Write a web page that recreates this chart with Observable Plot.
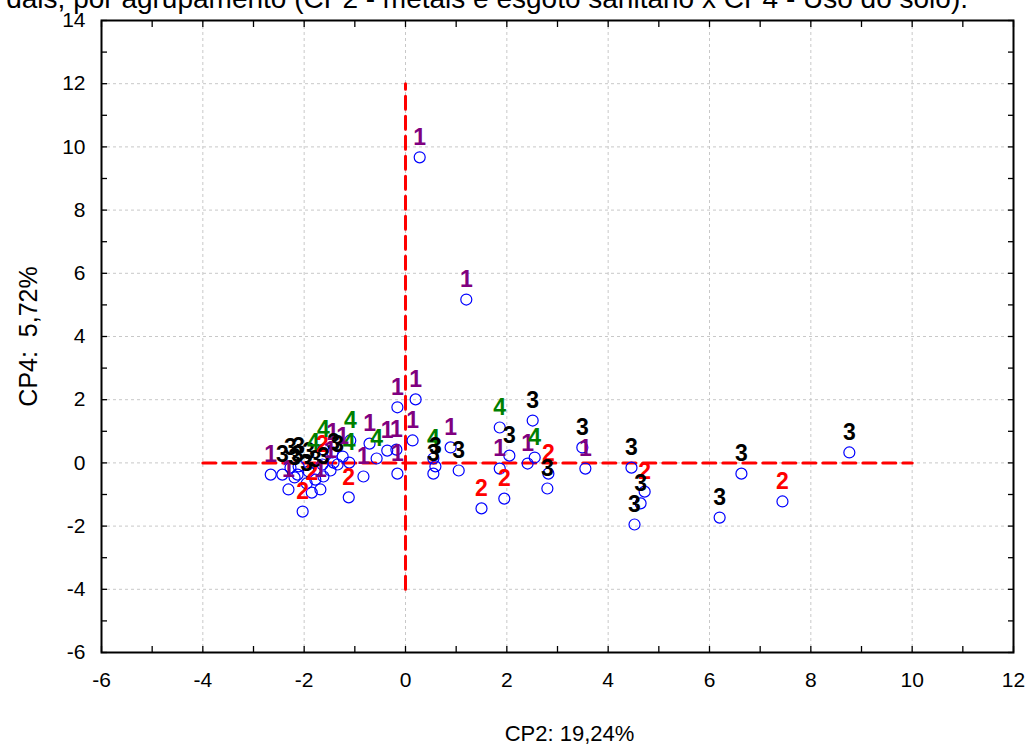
<!DOCTYPE html>
<html><head><meta charset="utf-8">
<script src="https://cdn.jsdelivr.net/npm/d3@7"></script>
<script src="https://cdn.jsdelivr.net/npm/@observablehq/plot@0.6"></script>
<style>
body{margin:0;background:#fff;font-family:"Liberation Sans",Arial,sans-serif;overflow:hidden}
#wrap{position:relative;width:1032px;height:746px;overflow:hidden;background:#fff}
#title{position:absolute;top:-17px;right:64px;font-size:28px;white-space:nowrap;color:#000;z-index:2}
#chart{position:absolute;left:0;top:0}
</style></head><body>
<div id="wrap"><div id="title">dais, por agrupamento (CP2 - metais e esgoto sanitário x CP4 - Uso do solo).</div><div id="chart"></div></div>
<script>
// CP2 (x) scores
const cp2 = [0.28, 1.20, 0.20, -0.16, 0.14, -0.16, -0.36, -0.18, -0.71, -0.57, -0.83, -1.09, -1.12, -1.11,
  0.55, 0.59, 0.55, 0.89, 1.05, 1.86, 2.51, 2.05, 1.86, 2.41, 2.55, 2.82, 2.80, 1.50, 1.95,
  3.49, 3.55, 4.46, 4.72, 4.64, 4.52, 6.63, 7.44, 6.20, 8.76,
  -2.66, -2.43, -2.27, -2.11, -2.13, -2.31, -2.03, -1.85, -1.91, -1.82, -1.78, -1.68, -1.64, -1.62, -1.62,
  -1.44, -1.42, -1.24, -1.95, -2.19, -1.48, -1.34];
// CP4 (y) scores
const cp4 = [9.67, 5.17, 2.01, 1.76, 0.71, -0.34, 0.39, 0.42, 0.61, 0.14, -0.43, 0.71, -1.09, 0.01,
  0.14, -0.11, -0.34, 0.49, -0.24, 1.12, 1.34, 0.23, -0.18, -0.02, 0.17, -0.34, -0.81, -1.44, -1.13,
  0.49, -0.18, -0.15, -0.91, -1.28, -1.95, -0.34, -1.22, -1.73, 0.33,
  -0.37, -0.37, -0.15, -0.11, -0.37, -0.84, -1.54, -0.94, -0.27, 0.01, -0.53, -0.84, -0.05, -0.43, 0.42,
  0.33, 0.01, 0.20, -0.65, -0.46, -0.24, -0.05];
// group labels
const grupo = ["1","1","1","1","1","1","1","1","1","4","1","4","2","4",
  "4","3","3","1","3","4","3","3","1","1","4","2","3","2","2",
  "3","1","3","2","3","3","3","2","3","3",
  "1","3","3","3","3","1","2","2","3","4","3","1","2","3","4",
  "1","3","1","3","3","1","3"];
const grupos = ["1", "2", "3", "4"];
const coresGrupo = ["#800080", "#ff0000", "#000000", "#008000"];
const xTicks = [-6, -4, -2, 0, 2, 4, 6, 8, 10, 12];
const yTicks = [-6, -4, -2, 0, 2, 4, 6, 8, 10, 12, 14];
const xMinor = d3.range(-6, 13, 1);
const yMinor = d3.range(-6, 15, 1);
const refH = {x: [-4, 10], y: [0, 0]};
const refV = {x: [0, 0], y: [-4, 12]};
const xLabel = "CP2: 19,24%";
const yLabel = "CP4:\u00a0 5,72%";

const pts = cp2.map((x, i) => ({x, y: cp4[i], g: grupo[i]}));
const hLine = refH.x.map((x, i) => ({x, y: refH.y[i]}));
const vLine = refV.x.map((x, i) => ({x, y: refV.y[i]}));
const font = '"Liberation Sans", Arial, sans-serif';
const fmt = d => String(d);

const chart = Plot.plot({
  width: 1032, height: 746,
  marginLeft: 101, marginRight: 19, marginTop: 20, marginBottom: 94,
  style: {fontFamily: font, fontSize: "21px", background: "white", color: "black", overflow: "visible"},
  x: {domain: [-6, 12]},
  y: {domain: [-6, 14]},
  color: {domain: grupos, range: coresGrupo},
  marks: [
    Plot.gridX(xTicks, {stroke: "#c8c8c8", strokeOpacity: 1, strokeDasharray: "3,3"}),
    Plot.gridY(yTicks, {stroke: "#c8c8c8", strokeOpacity: 1, strokeDasharray: "3,3"}),
    Plot.axisX(xMinor, {anchor: "bottom", tickSize: -6, fill: "none", label: null, strokeWidth: 1.3}),
    Plot.axisX(xMinor, {anchor: "top", tickSize: -6, fill: "none", label: null, strokeWidth: 1.3}),
    Plot.axisY(yMinor, {anchor: "left", tickSize: -6, fill: "none", label: null, strokeWidth: 1.3}),
    Plot.axisY(yMinor, {anchor: "right", tickSize: -6, fill: "none", label: null, strokeWidth: 1.3}),
    Plot.axisX(xTicks, {anchor: "bottom", tickSize: 0, tickPadding: 20, label: null, fontSize: 21, tickFormat: fmt}),
    Plot.axisY(yTicks, {anchor: "left", tickSize: 0, tickPadding: 16, label: null, fontSize: 21, tickFormat: fmt}),
    Plot.line(hLine, {x: "x", y: "y", stroke: "#ff0000", strokeWidth: 3, strokeDasharray: "13,7"}),
    Plot.line(vLine, {x: "x", y: "y", stroke: "#ff0000", strokeWidth: 3, strokeDasharray: "13,7"}),
    Plot.dot(pts, {x: "x", y: "y", r: 5.5, stroke: "#0000ff", strokeWidth: 1.2, fill: "none"}),
    Plot.text(pts, {x: "x", y: "y", text: "g", fill: "g", dy: -20, fontWeight: "bold", fontSize: 23}),
    Plot.frame({stroke: "black", strokeWidth: 2}),
    Plot.text([xLabel], {frameAnchor: "bottom", lineAnchor: "middle", dy: 81, dx: 12, fontSize: 22}),
    Plot.text([yLabel], {frameAnchor: "left", textAnchor: "middle", lineAnchor: "middle", dx: -73, rotate: -90, fontSize: 25})
  ]
});
document.getElementById("chart").appendChild(chart);
</script>
</body></html>
